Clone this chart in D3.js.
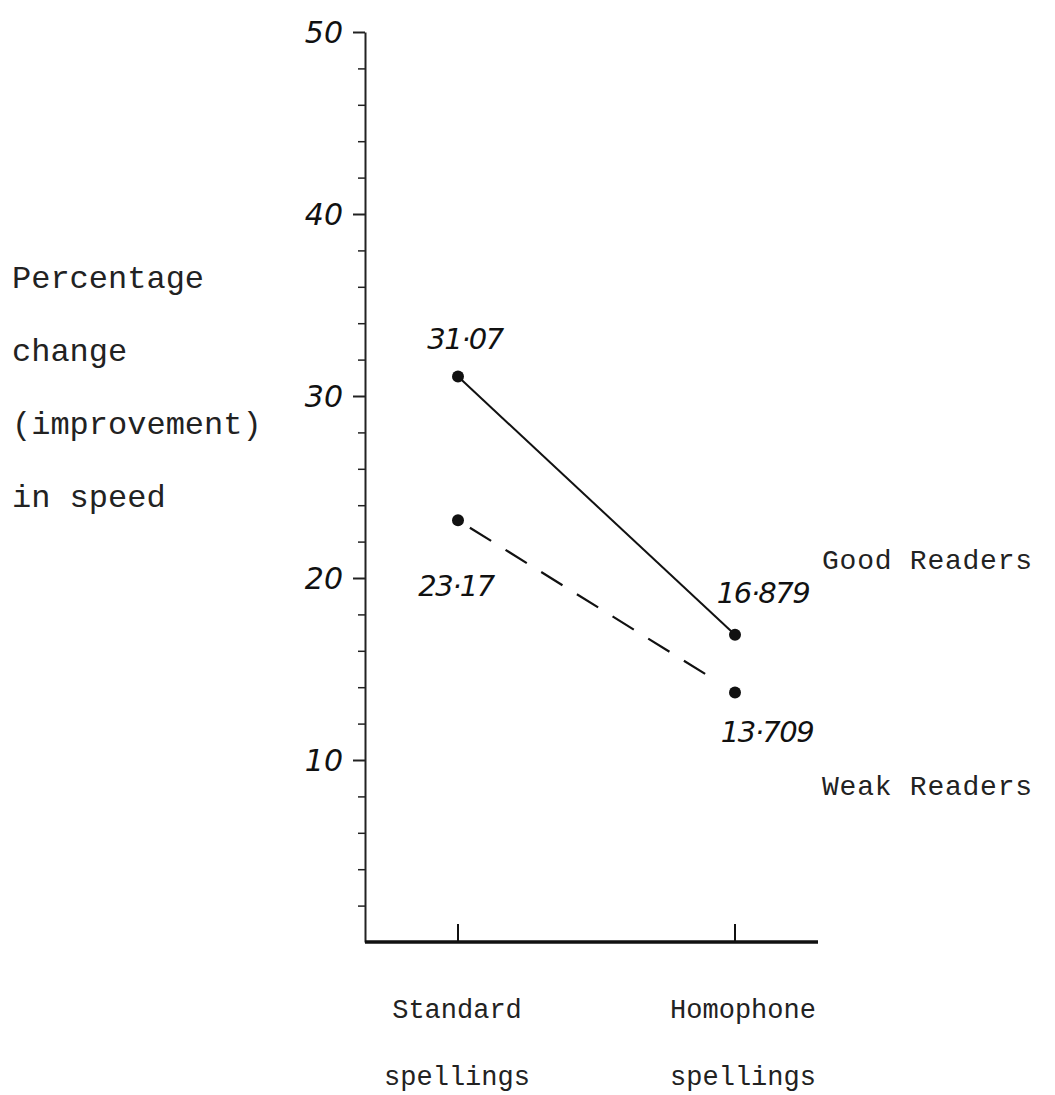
<!DOCTYPE html>
<html lang="en">
<head>
  <meta charset="utf-8">
  <title>Percentage change in speed</title>
  <script src="https://d3js.org/d3.v7.min.js"></script>
  <style>
    body { margin: 0; background: #fff; }
    .typed { font-family: "Liberation Mono", "DejaVu Sans Mono", monospace; fill: #222; }
    .hand { font-family: "DejaVu Sans", sans-serif; font-style: italic; fill: #111; }
  </style>
</head>
<body>
  <div id="chart"></div>
  <script>
    "use strict"

    // dados
    var categorias = ["Standard spellings", "Homophone spellings"];
    var catLinhas = [["Standard", "spellings"], ["Homophone", "spellings"]];
    var bons = [31.07, 16.879];
    var fracos = [23.17, 13.709];
    var series = ["Good Readers", "Weak Readers"];
    var ticksMaiores = [10, 20, 30, 40, 50];
    var ticksMenores = [2, 4, 6, 8, 12, 14, 16, 18, 22, 24, 26, 28, 32, 34, 36, 38, 42, 44, 46, 48];
    var tituloY = ["Percentage", "change", "(improvement)", "in speed"];

    var largura = 1055, altura = 1095;
    var margin = {top: 32, left: 365},
        larguraVis = 453,
        alturaVis = 910;

    var svg = d3.select("#chart").append("svg")
      .attr("width", largura).attr("height", altura);

    var g = svg.append("g")
      .attr("transform", "translate(" + margin.left + "," + margin.top + ")");

    var y = d3.scaleLinear().domain([0, 50]).range([alturaVis, 0]);
    var x = d3.scalePoint().domain(categorias).range([93, 370]);

    // eixo y: ticks menores e maiores
    var eixoMenor = g.append("g")
      .call(d3.axisLeft(y).tickValues(ticksMenores).tickSize(7).tickFormat(""));
    eixoMenor.select(".domain").remove();
    eixoMenor.selectAll("line").attr("stroke", "#222").attr("stroke-width", 1.5);

    var eixoY = g.append("g")
      .call(d3.axisLeft(y).tickValues(ticksMaiores).tickSize(12).tickSizeOuter(0).tickPadding(10));
    eixoY.select(".domain").attr("stroke", "#222").attr("stroke-width", 2);
    eixoY.selectAll("line").attr("stroke", "#222").attr("stroke-width", 2);
    eixoY.selectAll("text")
      .attr("class", "hand")
      .style("font-size", "30px")
      .style("font-family", "DejaVu Sans, sans-serif")
      .style("font-style", "italic")
      .attr("dy", "0.35em");

    // eixo x
    g.append("line")
      .attr("x1", 0).attr("x2", larguraVis)
      .attr("y1", alturaVis).attr("y2", alturaVis)
      .attr("stroke", "#111").attr("stroke-width", 3.5);

    g.selectAll(".cattick")
      .data(categorias)
      .enter().append("line")
        .attr("x1", d => x(d)).attr("x2", d => x(d))
        .attr("y1", alturaVis).attr("y2", alturaVis - 18)
        .attr("stroke", "#111").attr("stroke-width", 2);

    g.selectAll(".catlabel")
      .data(categorias)
      .enter().append("text")
        .attr("class", "typed")
        .attr("text-anchor", "middle")
        .style("font-size", "27px")
        .each(function(d, i) {
          var t = d3.select(this);
          catLinhas[i].forEach(function(l, j) {
            t.append("tspan")
              .attr("x", x(d) + (i === 0 ? -1 : 8))
              .attr("y", alturaVis + 76 + j * 67)
              .text(l);
          });
        });

    // linhas
    function pontos(vals) {
      return categorias.map((c, i) => ({c: c, v: vals[i]}));
    }
    var linha = d3.line().x(d => x(d.c)).y(d => y(d.v));

    g.append("path").datum(pontos(bons))
      .attr("d", linha).attr("fill", "none")
      .attr("stroke", "#111").attr("stroke-width", 2);

    g.append("path").datum(pontos(fracos))
      .attr("d", linha).attr("fill", "none")
      .attr("stroke", "#111").attr("stroke-width", 2.2)
      .attr("stroke-dasharray", "0,14,25,17,25,17,25,17,25,17,25,17,25,17,25,17");

    [bons, fracos].forEach(function(vals) {
      g.selectAll(null).data(pontos(vals)).enter().append("circle")
        .attr("cx", d => x(d.c)).attr("cy", d => y(d.v))
        .attr("r", 6).attr("fill", "#111");
    });

    // rotulos dos valores (manuscritos)
    var fmt = v => String(v).replace(".", "·");
    var offsBons = [[7, -28], [28, -32]];
    var offsFracos = [[-2, 76], [32, 50]];
    function rotulos(vals, offs) {
      g.selectAll(null).data(pontos(vals)).enter().append("text")
        .attr("class", "hand")
        .attr("text-anchor", "middle")
        .style("font-size", "29px")
        .style("letter-spacing", "-1.5px")
        .attr("x", (d, i) => x(d.c) + offs[i][0])
        .attr("y", (d, i) => y(d.v) + offs[i][1])
        .text(d => fmt(d.v));
    }
    rotulos(bons, offsBons);
    rotulos(fracos, offsFracos);

    // nomes das series
    svg.selectAll(".serie")
      .data(series)
      .enter().append("text")
        .attr("class", "typed")
        .style("font-size", "28px")
        .attr("x", 822)
        .attr("y", (d, i) => 569 + i * 226)
        .attr("textLength", 210)
        .text(d => d);

    // titulo do eixo y
    svg.selectAll(".titulo")
      .data(tituloY)
      .enter().append("text")
        .attr("class", "typed")
        .style("font-size", "32px")
        .attr("x", 12)
        .attr("y", (d, i) => 288 + i * 73)
        .text(d => d);
  </script>
</body>
</html>
